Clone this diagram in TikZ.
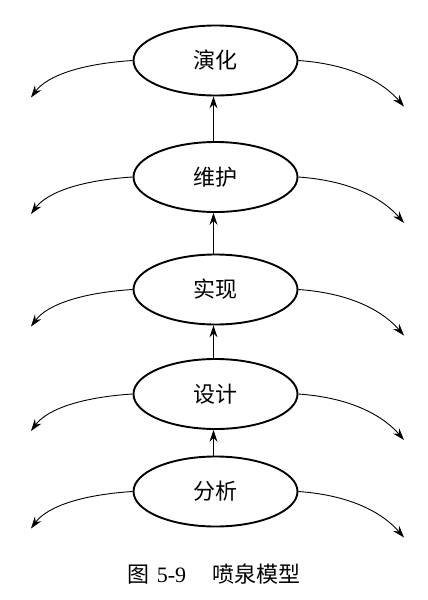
\documentclass[tikz,border=0pt]{standalone}
\usepackage{fontspec}
\setmainfont{Liberation Serif}
\newfontfamily\cjk{Noto Sans CJK SC}
\usetikzlibrary{shapes.geometric,arrows.meta}
\begin{document}
\begin{tikzpicture}[x=1pt,y=-1pt,
  phase/.style={ellipse,draw,line width=1.9pt,minimum width=164pt,minimum height=70pt,inner sep=0pt,font=\cjk\fontsize{22}{22}\selectfont},
  upflow/.style={line width=1.2pt,-{Stealth[length=12pt,width=8pt,inset=4pt]}},
  spill/.style={line width=0.9pt,-{Stealth[length=12pt,width=8pt,inset=4pt]}}]
\useasboundingbox (0,0) rectangle (428,600);
\node[phase] (p1) at (215.5,60.5) {演化};
\node[phase] (p2) at (215.5,177) {维护};
\node[phase] (p3) at (215.5,289.5) {实现};
\node[phase] (p4) at (215.5,394) {设计};
\node[phase] (p5) at (215.5,491.5) {分析};
\foreach \n/\c in {p1/60.5,p2/177,p3/289.5,p4/394,p5/491.5}{
  \coordinate (\n L) at (31,\c+37);
  \coordinate (\n R) at (404,\c+46);
  \draw[spill] (\n.west) .. controls (85,\c+3) and (48,\c+14) .. (\n L);
  \draw[spill] (\n.east) .. controls (355,\c+4) and (385,\c+24) .. (\n R);
}
\draw[upflow] (p2.north -| 213.5,0) -- (p1.south -| 213.5,0);
\draw[upflow] (p3.north -| 213.5,0) -- (p2.south -| 213.5,0);
\draw[upflow] (p4.north -| 213.5,0) -- (p3.south -| 213.5,0);
\draw[upflow] (p5.north -| 213.5,0) -- (p4.south -| 213.5,0);
\node[font=\fontsize{22}{22}\selectfont] (cap) at (214,574) {{\cjk 图}\hspace{7pt}5-9\hspace{26pt}{\cjk 喷泉模型}};
\end{tikzpicture}
\end{document}
